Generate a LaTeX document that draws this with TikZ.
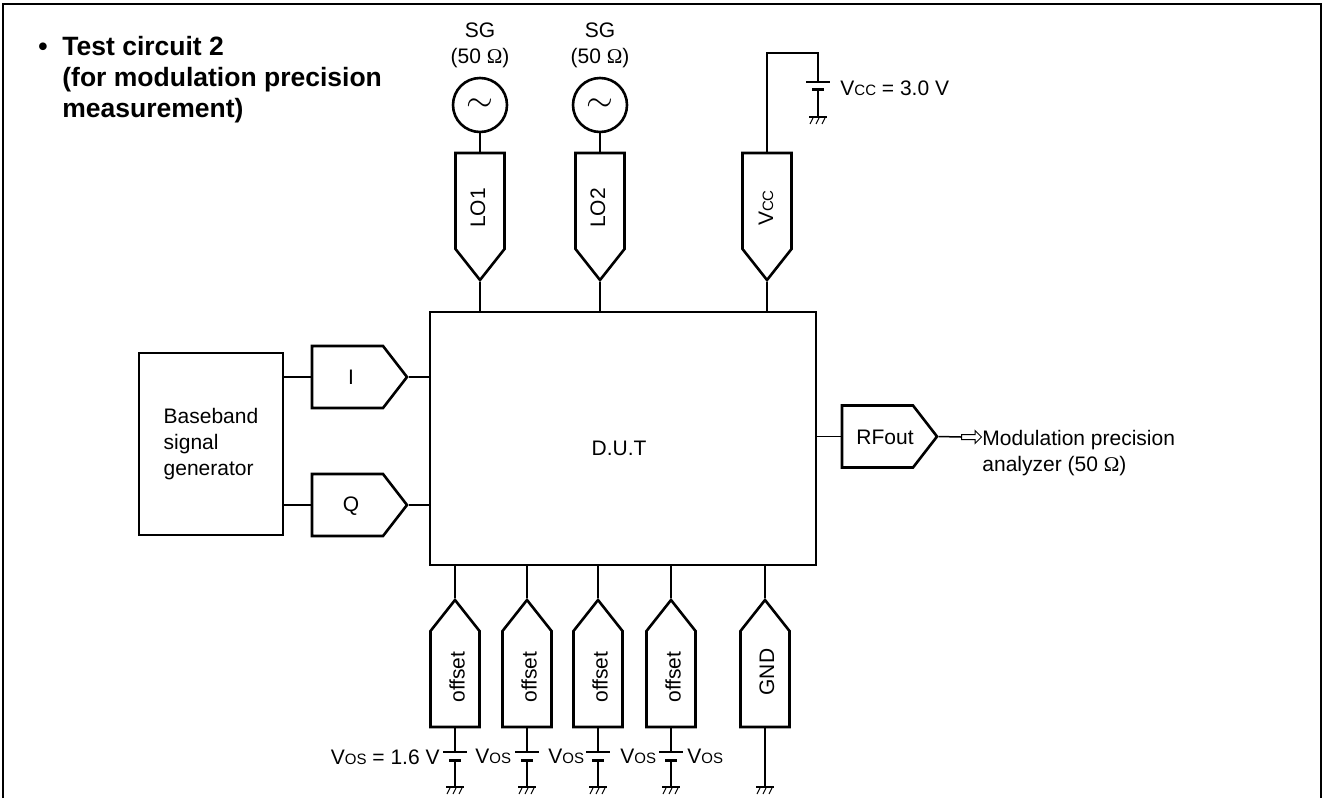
\documentclass[tikz,border=0pt]{standalone}
\usepackage{fontspec}
\setmainfont{Liberation Sans}
\newfontfamily\omegafont{Liberation Serif}
\usepackage{tikz}
\usetikzlibrary{arrows.meta,calc,positioning,shapes.symbols,shapes.arrows}
\newcommand{\ohmsign}{{\omegafont Ω}}
\newcommand{\subcaps}[1]{{\fontsize{7.5}{10}\selectfont #1}}
\tikzset{
  every node/.style={font=\fontsize{10.5}{13}\selectfont},
  box/.style={draw=black,line width=1.3pt,inner sep=0pt},
  port/.style={signal,draw=black,line width=1.3pt,inner sep=0pt,signal from=nowhere,
    signal pointer angle=104.5,minimum width=95*0.5pt,minimum height=62*0.5pt},
  longport/.style={port,rotate=90,signal pointer angle=76.6,
    minimum width=127*0.5pt,minimum height=49*0.5pt},
  porttext/.style={inner sep=0pt},
  sidetext/.style={inner sep=0pt,rotate=90},
  source/.style={circle,draw=black,line width=1.3pt,minimum size=54*0.5pt,inner sep=0pt},
  wire/.style={line width=0.75pt},
  plate/.style={line width=0.75pt},
  shortplate/.style={line width=1.5pt},
  label/.style={align=center,inner sep=0pt},
  gnd/.pic={
    \draw[line width=1.4pt] (-9,0) -- (9,0);
    \foreach \s in {-6,0,6} \draw[line width=0.5pt] (\s+1,1) -- (\s-2,7);
  }
}

\begin{document}
\begin{tikzpicture}[x=0.5pt,y=-0.5pt]
  \useasboundingbox (0,0) rectangle (1325,798);
  \draw[line width=0.75pt] (3,798) -- (3,4) -- (1321,4) -- (1321,798);
  % heading
  \node[label,anchor=north west,align=left,font=\bfseries\fontsize{13.25}{15.5}\selectfont] (title) at (38,36)
    {\makebox[12pt][l]{•}Test circuit 2\\\hspace*{12pt}(for modulation precision\\\hspace*{12pt}measurement)};
  % blocks
  \node[box,minimum width=386*0.5pt,minimum height=253*0.5pt] (dut) at (623,438.5) {};
  \node[porttext] (dutlab) at (619,448) {D.U.T};
  \node[box,minimum width=144*0.5pt,minimum height=182*0.5pt,align=left] (base) at (211,444)
    {Baseband\\signal\\generator};
  \node[port,signal to=east] (i) at (347.5,377) {};
  \node[port,signal to=east] (q) at (347.5,505) {};
  \node[port,signal to=east] (rf) at (877.5,436.5) {};
  \node[porttext] (ilab) at (351,377) {I};
  \node[porttext] (qlab) at (351,506) {Q};
  \node[porttext] (rflab) at (885,437) {RFout};
  \node[longport,signal to=west] (lo1) at (480,201) {};
  \node[longport,signal to=west] (lo2) at (600,201) {};
  \node[longport,signal to=west] (vcc) at (767,201) {};
  \node[longport,signal to=east] (gnd) at (765,679) {};
  \node[sidetext] (lo1lab) at (478,208) {LO1};
  \node[sidetext] (lo2lab) at (598,208) {LO2};
  \node[sidetext] (vcclab) at (766,208) {V\subcaps{CC}};
  \node[sidetext] (gndlab) at (767,672) {GND};
  % sources
  \node[source] (sg1) at (480,105) {\fontsize{16}{16}\selectfont$\sim$};
  \node[source] (sg2) at (600,105) {\fontsize{16}{16}\selectfont$\sim$};
  \node[label,above=4pt of sg1] (sg1lab) {SG\\(50 \ohmsign)};
  \node[label,above=4pt of sg2] (sg2lab) {SG\\(50 \ohmsign)};
  \draw[wire] (sg1) -- (lo1.east);
  \draw[wire] (sg2) -- (lo2.east);
  \draw[wire] (lo1.west) -- (lo1.west |- dut.north);
  \draw[wire] (lo2.west) -- (lo2.west |- dut.north);
  \draw[wire] (vcc.west) -- (vcc.west |- dut.north);
  \draw[wire] (i.west -| base.east) -- (i.west);
  \draw[wire] (q.west -| base.east) -- (q.west);
  \draw[wire] (i.east) -- (i.east -| dut.west);
  \draw[wire] (q.east) -- (q.east -| dut.west);
  \draw[wire] (rf.west -| dut.east) -- (rf.west);
  % supply
  \coordinate (vcctop) at (818,82);
  \coordinate (vccneg) at (818,89);
  \coordinate (vccgnd) at (818,117);
  \draw[wire] (vcc.east) |- (818,53) -- (vcctop);
  \draw[plate] ($(vcctop)+(-12,0)$) -- ($(vcctop)+(12,0)$);
  \draw[shortplate] ($(vccneg)+(-6,0)$) -- ($(vccneg)+(6,0)$);
  \draw[wire] (vccneg) -- (vccgnd);
  \pic at (vccgnd) {gnd};
  \node[label,anchor=west] (vccvalue) at (840,88) {V\subcaps{CC} = 3.0 V};
  % offsets
  \foreach \x/\name in {455/os1,527/os2,598/os3,671/os4}{
    \node[longport,signal to=east] (\name) at (\x,679) {};
    \node[sidetext] (\name lab) at (\x+2,677) {offset};
    \coordinate (\name top) at (\x,752);
    \coordinate (\name neg) at (\x,760);
    \coordinate (\name gnd) at (\x,787);
    \draw[wire] (\name.east) -- (\name.east |- dut.south);
    \draw[wire] (\name.west) -- (\name top);
    \draw[plate] ($(\name top)+(-12,0)$) -- ($(\name top)+(12,0)$);
    \draw[shortplate] ($(\name neg)+(-6,0)$) -- ($(\name neg)+(6,0)$);
    \draw[wire] (\name neg) -- (\name gnd);
    \pic at (\name gnd) {gnd};
  }
  \coordinate (gndend) at (765,787);
  \draw[wire] (gnd.east) -- (gnd.east |- dut.south);
  \draw[wire] (gnd.west) -- (gndend);
  \pic at (gndend) {gnd};
  \node[label,anchor=east] (oslab1) at (440,757) {V\subcaps{OS} = 1.6 V};
  \node[label,anchor=west] (oslab2) at (475,756) {V\subcaps{OS}};
  \node[label,anchor=west] (oslab3) at (548,756) {V\subcaps{OS}};
  \node[label,anchor=west] (oslab4) at (620,756) {V\subcaps{OS}};
  \node[label,anchor=west] (oslab5) at (687,756) {V\subcaps{OS}};
  % output
  \coordinate (outtail) at (961,437);
  \node[single arrow,draw=black,line width=0.5pt,minimum height=10pt,inner sep=1pt,
    single arrow head extend=2pt,anchor=west] (outarrow) at (outtail) {};
  \draw[wire] (rf.east) -- (outtail);
  \node[label,align=left,anchor=north west] (outlab) at (982,430) {Modulation precision\\analyzer (50 \ohmsign)};
\end{tikzpicture}
\end{document}
